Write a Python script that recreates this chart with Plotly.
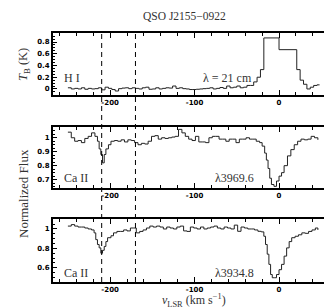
import plotly.graph_objects as go
from plotly.subplots import make_subplots

# HI 21 cm brightness temperature (K), step profile
v_hi = [-250, -246, -242, -238, -234, -230, -226, -222, -218, -214, -210, -206, -202, -198,
        -194, -190, -186, -182, -178, -174, -170, -166, -162, -158, -154, -150, -146, -142,
        -138, -134, -130, -126, -122, -118, -114, -110, -106, -102, -98, -94, -90, -86, -82,
        -78, -74, -70, -66, -62, -58, -54, -50, -46, -42, -38, -34, -30, -26, -22, -18, 0,
        21, 25, 29, 33, 37, 41, 45, 48]
tb_hi = [0.02, 0.0, 0.01, 0.0, 0.02, -0.005, 0.01, 0.0, 0.005, 0.02, -0.015, 0.03, 0.01, -0.01,
         -0.035, 0.005, 0.015, 0.02, 0.005, 0.02, 0.01, 0.0, 0.02, 0.03, -0.005, 0.0, 0.02, 0.0,
         0.01, 0.02, 0.015, 0.05, 0.01, 0.02, 0.005, 0.0, -0.01, -0.01, -0.005, 0.0, 0.005, 0.01,
         0.02, 0.0, 0.01, 0.025, 0.01, 0.05, 0.02, 0.03, 0.05, 0.02, 0.03, 0.06, 0.06, 0.12, 0.2,
         0.33, 0.87, 0.67, 0.33, 0.15, 0.08, 0.0, 0.03, 0.06, 0.07, 0.07]

# Ca II 3969.6 normalized flux
v_k = [-250, -246, -242, -238, -234, -230, -226, -222, -218, -215, -213, -211, -209, -207, -205,
       -202, -199, -195, -191, -187, -183, -179, -175, -171, -167, -163, -159, -155, -151, -147,
       -143, -139, -135, -131, -127, -123, -119, -115, -111, -107, -103, -99, -95, -91, -87, -83,
       -79, -75, -71, -67, -63, -59, -55, -51, -47, -43, -39, -35, -31, -27, -23, -20, -17, -15,
       -13, -11, -9, -6, -3, 0, 3, 6, 10, 14, 18, 22, 26, 30, 34, 38, 42, 46]
f_k = [1.04, 1.0, 0.975, 0.98, 0.965, 0.995, 1.01, 1.035, 1.01, 0.975, 0.92, 0.88, 0.82, 0.88,
       0.92, 0.95, 0.975, 0.98, 0.975, 0.985, 0.97, 0.985, 0.98, 0.965, 0.95, 0.96, 0.955, 0.975,
       1.01, 1.015, 0.99, 1.0, 0.995, 1.0, 1.005, 1.01, 1.06, 1.035, 1.01, 0.99, 0.98, 1.01, 0.97,
       0.97, 0.965, 1.0, 1.01, 1.01, 0.99, 0.99, 0.975, 0.99, 0.99, 0.965, 0.99, 0.99, 1.0, 0.99,
       0.99, 0.975, 0.965, 0.94, 0.89, 0.84, 0.78, 0.71, 0.665, 0.652, 0.69, 0.725, 0.75, 0.8,
       0.87, 0.915, 0.95, 0.975, 0.99, 0.985, 0.99, 1.01, 1.0, 0.985]

# Ca II 3934.8 normalized flux
v_h = [-250, -246, -242, -238, -234, -230, -226, -222, -219, -217, -215, -213, -211, -209, -207,
       -205, -203, -199, -196, -192, -188, -184, -180, -176, -172, -169, -165, -161, -157, -153,
       -149, -145, -141, -137, -133, -129, -125, -121, -117, -113, -109, -105, -101, -97, -93,
       -89, -85, -81, -77, -73, -69, -65, -61, -57, -53, -49, -45, -41, -37, -33, -29, -25, -21,
       -18, -16, -14, -12, -10, -8, -5, -3, 0, 3, 6, 9, 12, 15, 19, 23, 27, 31, 35, 39, 43, 46]
f_h = [1.03, 1.045, 1.03, 1.02, 1.02, 1.01, 1.0, 0.99, 0.96, 0.89, 0.84, 0.805, 0.75, 0.78, 0.82,
       0.87, 0.91, 0.93, 0.96, 0.975, 0.975, 0.99, 0.98, 1.01, 1.01, 0.96, 0.975, 0.99, 1.01, 1.03,
       1.02, 1.03, 1.02, 1.0, 1.02, 1.01, 1.0, 1.02, 1.03, 0.98, 0.975, 1.02, 1.01, 1.0, 1.02,
       1.0, 1.01, 1.02, 1.03, 1.01, 1.0, 1.02, 1.01, 1.0, 1.04, 0.976, 1.02, 1.01, 1.0, 1.0, 0.99,
       0.976, 0.97, 0.925, 0.84, 0.74, 0.635, 0.53, 0.497, 0.497, 0.53, 0.58, 0.635, 0.72, 0.805,
       0.87, 0.91, 0.925, 0.94, 0.96, 0.955, 0.975, 0.99, 1.01, 0.99]

# velocities of the two marked components
v_marks = [-210, -170]

x_ticks = [-200, -100, 0]
x_ticktext = ["-200", "-100", "0"]
y1_ticks = [0, 0.2, 0.4, 0.6, 0.8]
y1_text = ["0", "0.2", "0.4", "0.6", "0.8"]
y2_ticks = [0.7, 0.8, 0.9, 1.0]
y2_text = ["0.7", "0.8", "0.9", "1"]
y3_ticks = [0.6, 0.8, 1.0]
y3_text = ["0.6", "0.8", "1"]

W, H = 332, 307
xdom = [44.7 / W, 321.7 / W]
# panel pixel boxes (top, bottom)
boxes = [(25, 87), (119, 180), (211, 274)]
ydoms = [[1 - b / H, 1 - t / H] for t, b in boxes]

fig = make_subplots(rows=3, cols=1)
line = dict(color="#222222", width=1, shape="hv")
fig.add_trace(go.Scatter(x=v_hi, y=tb_hi, mode="lines", line=line), row=1, col=1)
fig.add_trace(go.Scatter(x=v_k, y=f_k, mode="lines", line=line), row=2, col=1)
fig.add_trace(go.Scatter(x=v_h, y=f_h, mode="lines", line=line), row=3, col=1)

tickfont = dict(family="DejaVu Sans", size=7, color="black", weight="bold")
axcommon = dict(showline=True, linecolor="black", linewidth=1.5, mirror="allticks",
                ticks="inside", ticklen=5, tickwidth=1, tickcolor="black",
                showgrid=False, zeroline=False, tickfont=tickfont)

for i in range(3):
    fig.update_xaxes(domain=xdom, range=[-268, 60], tickvals=x_ticks, ticktext=x_ticktext,
                     minor=dict(ticks="inside", ticklen=3, dtick=20, tick0=0,
                                tickcolor="black", showgrid=False),
                     row=i + 1, col=1, **axcommon)

fig.update_yaxes(domain=ydoms[0], range=[-0.103, 0.954], tickvals=y1_ticks, ticktext=y1_text,
                 minor=dict(ticks="inside", ticklen=3, dtick=0.05, tick0=0, tickcolor="black"),
                 row=1, col=1, **axcommon)
fig.update_yaxes(domain=ydoms[1], range=[0.64, 1.077], tickvals=y2_ticks, ticktext=y2_text,
                 minor=dict(ticks="inside", ticklen=3, dtick=0.025, tick0=0, tickcolor="black"),
                 row=2, col=1, **axcommon)
fig.update_yaxes(domain=ydoms[2], range=[0.453, 1.103], tickvals=y3_ticks, ticktext=y3_text,
                 minor=dict(ticks="inside", ticklen=3, dtick=0.05, tick0=0, tickcolor="black"),
                 row=3, col=1, **axcommon)

# dashed lines running through all three panels
for v in v_marks:
    fig.add_shape(type="line", xref="x", yref="paper", x0=v, x1=v,
                  y0=ydoms[2][0], y1=ydoms[0][1],
                  line=dict(color="black", width=1, dash="5px,4px"))

serif = "Liberation Serif"
notes = [
    (0.5 * (xdom[0] + xdom[1]) - 0.02, 1 - 8 / H, "QSO J2155\u22120922", 11.5, 0),
    (64 / W, 1 - 70 / H, "H I", 12, 0),
    (219 / W, 1 - 70 / H, "\u03bb = 21 cm", 12, 0),
    (68 / W, 1 - 170 / H, "Ca II", 12, 0),
    (227 / W, 1 - 170 / H, "\u03bb3969.6", 12, 0),
    (68 / W, 1 - 265 / H, "Ca II", 12, 0),
    (227 / W, 1 - 265 / H, "\u03bb3934.8", 12, 0),
    (16 / W, 1 - 57 / H, "<i>T</i><sub>B</sub> (K)", 12.5, -90),
    (15 / W, 1 - 186 / H, "Normalized Flux", 13, -90),
    (186 / W, 1 - 292 / H, "<i>v</i><sub>LSR</sub> (km s<sup>\u22121</sup>)", 12, 0),
]
for x, y, t, s, ang in notes:
    fig.add_annotation(x=x, y=y, xref="paper", yref="paper", text=t, showarrow=False,
                       textangle=ang, xanchor="center", yanchor="middle",
                       font=dict(family=serif, size=s, color="#333333"))

fig.update_layout(width=W, height=H, margin=dict(l=0, r=0, t=0, b=0),
                  paper_bgcolor="white", plot_bgcolor="white", showlegend=False)
fig.write_html("out.html")
